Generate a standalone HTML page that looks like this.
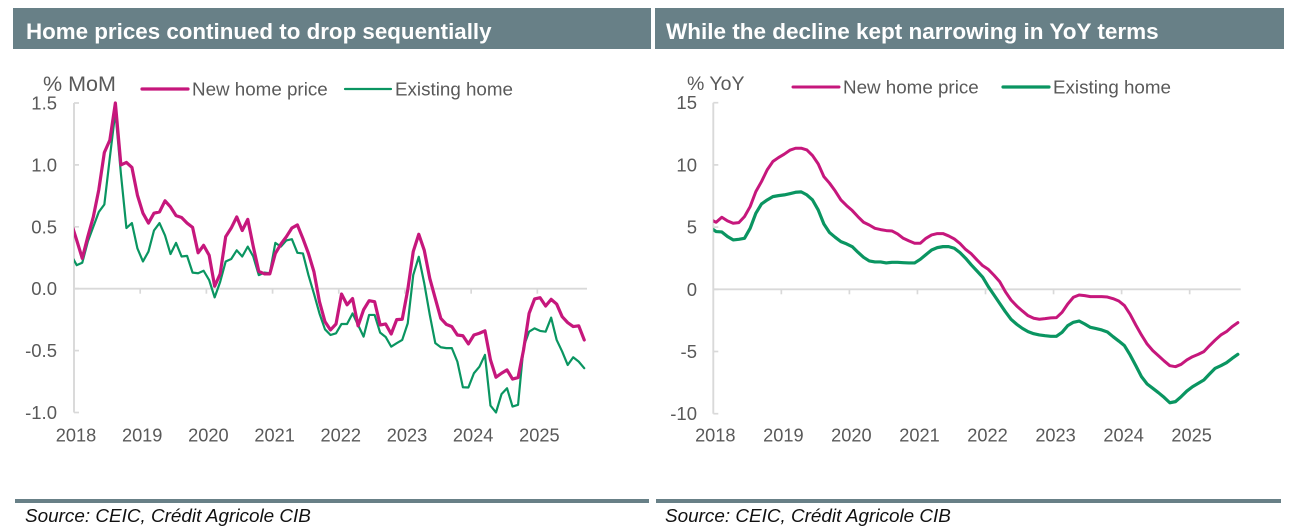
<!DOCTYPE html>
<html lang="en">
<head>
<meta charset="utf-8">
<title>Home prices charts</title>
<style>
html,body{margin:0;padding:0;background:#fff;}
#page{position:relative;width:1296px;height:531px;overflow:hidden;background:#fff;font-family:"Liberation Sans",Arial,sans-serif;}
.hdr{position:absolute;top:8px;height:41px;background:#688087;color:#fff;font-weight:bold;font-size:22.5px;line-height:47px;white-space:nowrap;box-sizing:border-box;}
.rule{position:absolute;top:499px;height:4px;background:#688087;}
.src{position:absolute;top:506px;font-style:italic;font-size:18.9px;line-height:22px;color:#111;white-space:nowrap;}
svg{position:absolute;left:0;top:0;}
svg text{font-family:"Liberation Sans",Arial,sans-serif;fill:#595959;}
</style>
</head>
<body>
<div id="page">
  <div class="hdr" style="left:13px;width:638px;padding-left:13px;font-size:22.35px;">Home prices continued to drop sequentially</div>
  <div class="hdr" style="left:655px;width:629px;padding-left:11px;">While the decline kept narrowing in YoY terms</div>
  <svg id="chart" width="1296" height="531" viewBox="0 0 1296 531"></svg>
  <div class="rule" style="left:15px;width:634px;"></div>
  <div class="rule" style="left:656px;width:625px;"></div>
  <div class="src" style="left:25px;">Source: CEIC, Crédit Agricole CIB</div>
  <div class="src" style="left:665px;">Source: CEIC, Crédit Agricole CIB</div>
</div>
<script>
// Monthly readings, Dec 2017 through Sep 2025 (the Dec 2017 point is clipped at the axis).
const yearLabels = ["2018","2019","2020","2021","2022","2023","2024","2025"];
const momTickValues = [1.5,1.0,0.5,0.0,-0.5,-1.0];
const momTickLabels = ["1.5","1.0","0.5","0.0","-0.5","-1.0"];
const yoyTickValues = [15,10,5,0,-5,-10];
const yoyTickLabels = ["15","10","5","0","-5","-10"];

const momNew = [0.53,0.39,0.245,0.42,0.58,0.80,1.10,1.20,1.50,1.0,1.02,0.98,0.755,0.61,0.53,0.61,0.62,0.71,0.66,0.59,0.575,0.53,0.495,0.29,0.35,0.27,0.02,0.12,0.42,0.49,0.58,0.47,0.56,0.34,0.14,0.12,0.12,0.285,0.36,0.42,0.49,0.515,0.405,0.285,0.137,-0.105,-0.266,-0.333,-0.285,-0.043,-0.13,-0.08,-0.30,-0.17,-0.097,-0.105,-0.293,-0.285,-0.366,-0.25,-0.247,-0.01,0.30,0.44,0.31,0.083,-0.08,-0.24,-0.288,-0.306,-0.374,-0.38,-0.446,-0.374,-0.36,-0.34,-0.575,-0.715,-0.683,-0.656,-0.73,-0.718,-0.495,-0.20,-0.083,-0.073,-0.14,-0.086,-0.124,-0.226,-0.274,-0.306,-0.30,-0.414];
const momExisting = [0.27,0.19,0.21,0.38,0.50,0.62,0.68,1.06,1.43,0.93,0.49,0.53,0.325,0.22,0.30,0.47,0.53,0.43,0.28,0.37,0.26,0.265,0.13,0.125,0.145,0.07,-0.07,0.055,0.22,0.24,0.31,0.26,0.34,0.26,0.11,0.13,0.125,0.37,0.34,0.39,0.40,0.29,0.285,0.11,-0.04,-0.20,-0.328,-0.374,-0.36,-0.285,-0.285,-0.20,-0.293,-0.387,-0.212,-0.212,-0.355,-0.39,-0.468,-0.44,-0.414,-0.28,0.11,0.258,0.043,-0.212,-0.44,-0.473,-0.48,-0.48,-0.589,-0.796,-0.798,-0.683,-0.63,-0.535,-0.944,-1.0,-0.852,-0.804,-0.952,-0.938,-0.47,-0.347,-0.32,-0.341,-0.347,-0.234,-0.414,-0.508,-0.616,-0.554,-0.589,-0.642];
const yoyNew = [5.6,5.39,5.79,5.5,5.31,5.36,5.84,6.65,7.85,8.66,9.6,10.27,10.59,10.86,11.18,11.34,11.34,11.2,10.75,10.08,9.06,8.53,7.9,7.18,6.73,6.33,5.84,5.39,5.17,4.9,4.8,4.72,4.69,4.45,4.1,3.89,3.7,3.7,4.1,4.37,4.48,4.48,4.29,4.05,3.68,3.2,2.85,2.36,1.9,1.6,1.13,0.62,-0.19,-0.86,-1.34,-1.74,-2.12,-2.33,-2.41,-2.36,-2.3,-2.28,-1.85,-1.18,-0.64,-0.46,-0.51,-0.59,-0.59,-0.59,-0.62,-0.75,-0.94,-1.31,-2.01,-2.87,-3.67,-4.4,-4.93,-5.34,-5.76,-6.14,-6.22,-6.03,-5.68,-5.42,-5.23,-5.01,-4.53,-4.08,-3.67,-3.4,-3.0,-2.68];
const yoyExisting = [4.95,4.64,4.61,4.24,3.97,4.02,4.1,4.9,6.11,6.86,7.18,7.45,7.53,7.59,7.69,7.8,7.83,7.59,7.18,6.38,5.25,4.56,4.18,3.83,3.65,3.43,2.98,2.57,2.28,2.2,2.2,2.12,2.17,2.17,2.14,2.12,2.12,2.41,2.79,3.16,3.35,3.43,3.43,3.3,2.95,2.49,1.96,1.47,0.97,0.21,-0.46,-1.13,-1.8,-2.41,-2.81,-3.14,-3.4,-3.57,-3.67,-3.73,-3.78,-3.78,-3.46,-2.92,-2.65,-2.55,-2.79,-3.06,-3.16,-3.27,-3.43,-3.81,-4.16,-4.53,-5.28,-6.14,-7.02,-7.61,-7.96,-8.31,-8.69,-9.12,-9.03,-8.63,-8.18,-7.83,-7.56,-7.29,-6.81,-6.35,-6.14,-5.9,-5.55,-5.23];

const NS = "http://www.w3.org/2000/svg";
const svg = document.getElementById("chart");
const AXIS = "#d9d9d9", PINK = "#c6177c", GREEN = "#0a9561";

function mk(tag, attrs, parent, text) {
  const el = document.createElementNS(NS, tag);
  for (const k in attrs) el.setAttribute(k, attrs[k]);
  if (text !== undefined) el.textContent = text;
  (parent || svg).appendChild(el);
  return el;
}

function drawPanel(cfg) {
  const months = 12 * yearLabels.length - 3;
  const stepX = (cfg.x1 - cfg.x0) / months;
  const xScale = i => cfg.x0 + (i - 0.5) * stepX;
  const tickX = y => cfg.x0 + y * 12 * stepX;
  const yScale = v => cfg.yZero - v * cfg.pxPerUnit;

  const g = mk("g", {});
  
  

  const clip = mk("clipPath", {id: cfg.key + "-clip"}, g);
  mk("rect", {x: cfg.x0, y: 90, width: cfg.x1 - cfg.x0 + 3, height: 340}, clip);

  const yTop = yScale(cfg.tickValues[0]);
  const yBot = yScale(cfg.tickValues[cfg.tickValues.length - 1]);
  const yAxis = mk("line", {x1: cfg.x0, x2: cfg.x0, y1: yTop, y2: yBot, stroke: AXIS, "stroke-width": 1.9}, g);
  
  
  const xAxis = mk("line", {x1: cfg.x0, x2: cfg.x1, y1: yScale(0), y2: yScale(0), stroke: AXIS, "stroke-width": 1.9}, g);
  
  

  cfg.tickValues.forEach((v, i) => {
    const y = yScale(v);
    mk("line", {x1: cfg.x0, x2: cfg.x0 + 5, y1: y, y2: y, stroke: AXIS, "stroke-width": 1.7}, g);
    const t = mk("text", {x: cfg.x0 - cfg.labelGap, y: y + 6.5, "text-anchor": "end", "font-size": 18.5}, g, cfg.tickLabels[i]);
    
    
  });

  yearLabels.forEach((label, i) => {
    const x = tickX(i);
    if (i > 0) mk("line", {x1: x, x2: x, y1: yScale(0), y2: yScale(0) + 5, stroke: AXIS, "stroke-width": 1.7}, g);
    const t = mk("text", {x: x + 2, y: 441.5, "text-anchor": "middle", "font-size": 18.2}, g, label);
    
    
  });

  const unit = mk("text", {x: cfg.unitX, y: cfg.unitY, "font-size": cfg.unitSize}, g, cfg.unit);
  
  

  const lineStr = vals => vals.map((v, i) => xScale(i).toFixed(2) + "," + yScale(v).toFixed(2)).join(" ");
  cfg.series.forEach(s => {
    const p = mk("polyline", {points: lineStr(s.values), fill: "none", stroke: s.color, "stroke-width": s.width, "stroke-linejoin": "round", "stroke-linecap": "round", "clip-path": "url(#" + cfg.key + "-clip)"}, g);
    
    

    const sw = mk("line", {x1: s.lx, x2: s.lx + 46, y1: cfg.legendY, y2: cfg.legendY, stroke: s.color, "stroke-width": s.width, "stroke-linecap": "round"}, g);
    
    
    const lt = mk("text", {x: s.lx + 50, y: cfg.legendY + 6.5, "font-size": 18.8}, g, s.name);
    
    
  });
}

drawPanel({
  key: "mom", x0: 74, x1: 587, yZero: 288.7, pxPerUnit: 123.8, labelGap: 17,
  tickValues: momTickValues, tickLabels: momTickLabels,
  unit: "% MoM", unitX: 43, unitY: 91, unitSize: 21.5, legendY: 89,
  series: [
    {name: "Existing home", slug: "existing-home", values: momExisting, color: GREEN, width: 2.2, lx: 345},
    {name: "New home price", slug: "new-home-price", values: momNew, color: PINK, width: 3.2, lx: 142}
  ]
});
drawPanel({
  key: "yoy", x0: 713.3, x1: 1240.7, yZero: 289.3, pxPerUnit: 12.44, labelGap: 16.3,
  tickValues: yoyTickValues, tickLabels: yoyTickLabels,
  unit: "% YoY", unitX: 687, unitY: 90, unitSize: 19.5, legendY: 87,
  series: [
    {name: "Existing home", slug: "existing-home", values: yoyExisting, color: GREEN, width: 3.2, lx: 1003},
    {name: "New home price", slug: "new-home-price", values: yoyNew, color: PINK, width: 3, lx: 793}
  ]
});
</script>
</body>
</html>
